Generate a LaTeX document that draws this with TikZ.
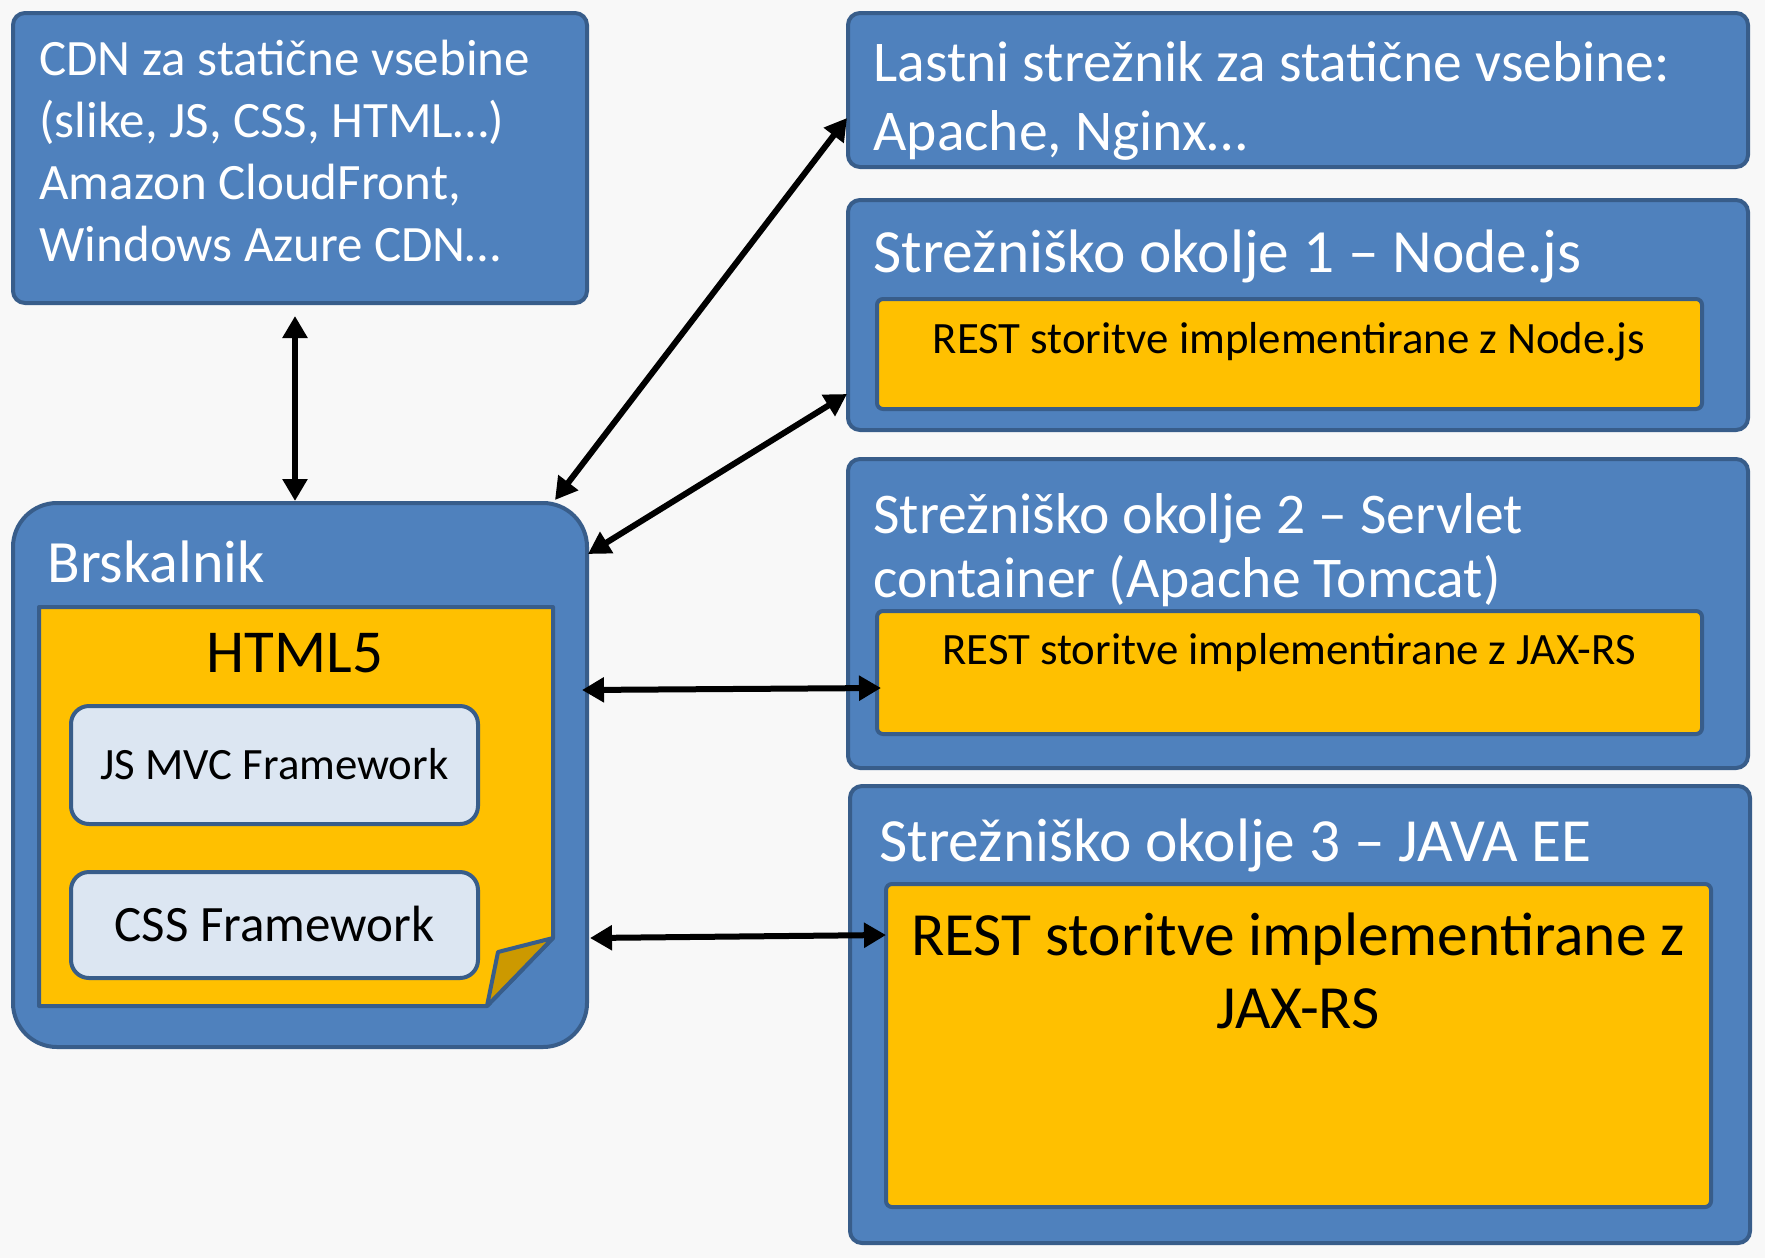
\documentclass[tikz,border=0pt]{standalone}
\usepackage{fontspec}
\setmainfont{Carlito}
\usetikzlibrary{arrows.meta}
\usepackage{xcolor}
\definecolor{boxblue}{HTML}{4F81BD}
\definecolor{edgeblue}{HTML}{385D8A}
\definecolor{gold}{HTML}{FFC000}
\definecolor{darkgold}{HTML}{CC9900}
\definecolor{paleblue}{HTML}{DCE6F2}
\definecolor{bggray}{HTML}{F8F8F8}
\newcommand\cdnsize{\fontsize{25.5}{30}\selectfont}
\newcommand\headsize{\fontsize{30.7}{37}\selectfont}
\newcommand\smallheadsize{\fontsize{28.8}{35}\selectfont}
\newcommand\restsize{\fontsize{22.4}{27}\selectfont}
\newcommand\bigrestsize{\fontsize{30.7}{37}\selectfont}

\begin{document}
\begin{tikzpicture}[x=0.5pt,y=-0.5pt,
  bluebox/.style={draw=edgeblue,fill=boxblue,line width=2pt,rounded corners=6pt,inner sep=0pt,outer sep=0pt},
  goldbox/.style={draw=edgeblue,fill=gold,line width=2pt,rounded corners=3pt,inner sep=0pt,outer sep=0pt},
  palebox/.style={draw=edgeblue,fill=paleblue,line width=2pt,rounded corners=9pt,inner sep=0pt,outer sep=0pt},
  wtext/.style={text=white,anchor=base west,inner sep=0pt},
  btext/.style={text=black,anchor=base,inner sep=0pt},
  link/.style={{Triangle[length=11pt,width=12pt]}-{Triangle[length=11pt,width=12pt]},line width=3pt}]
\fill[bggray] (0,0) rectangle (1765,1258);
\useasboundingbox (0,0) rectangle (1765,1258);

% boxes
\node[bluebox,minimum width=287pt,minimum height=145pt] (cdn) at (300,158) {};
\node[bluebox,minimum width=450pt,minimum height=77pt] (static) at (1298,90) {};
\node[bluebox,minimum width=450pt,minimum height=115pt] (env1) at (1298,315) {};
\node[goldbox,minimum width=412.5pt,minimum height=55pt] (rest1) at (1289.5,354) {};
\node[bluebox,minimum width=450pt,minimum height=154.5pt] (env2) at (1298,613.5) {};
\node[goldbox,minimum width=412.5pt,minimum height=61.5pt] (rest2) at (1289.5,672.5) {};
\node[bluebox,minimum width=450pt,minimum height=228.5pt] (env3) at (1300,1014.5) {};
\node[goldbox,minimum width=412.5pt,minimum height=161.5pt] (rest3) at (1298.5,1045.5) {};
\node[bluebox,rounded corners=22pt,minimum width=287pt,minimum height=272pt] (brs) at (300,775) {};

% HTML5 page with folded corner
\draw[draw=edgeblue,fill=gold,line width=2pt,line join=round] (39,607) -- (553,607) -- (553,938) -- (487,1006) -- (39,1006) -- cycle;
\draw[draw=edgeblue,fill=darkgold,line width=2pt,line join=round] (553,938) -- (498,952) -- (487,1006) -- cycle;
\node[palebox,minimum width=203.5pt,minimum height=59pt,font=\fontsize{22.4}{27}\selectfont,text height=14.4pt,text depth=0pt] (jsmvc) at (274.5,765) {JS MVC Framework};
\node[palebox,minimum width=203.5pt,minimum height=53pt,font=\fontsize{25.5}{30}\selectfont,text height=16.4pt,text depth=0pt] (css) at (274.5,925) {CSS Framework};

% texts
\node[wtext,font=\cdnsize] (cdn1) at (39,75) {CDN za statične vsebine};
\node[wtext,font=\cdnsize] (cdn2) at (39,137) {(slike, JS, CSS, HTML…)};
\node[wtext,font=\cdnsize] (cdn3) at (39,199) {Amazon CloudFront,};
\node[wtext,font=\cdnsize] (cdn4) at (39,261) {Windows Azure CDN…};
\node[wtext,font=\smallheadsize] (static1) at (873,81) {Lastni strežnik za statične vsebine:};
\node[wtext,font=\smallheadsize] (static2) at (873,150) {Apache, Nginx…};
\node[wtext,font=\headsize] (env1t) at (873,272) {Strežniško okolje 1 – Node.js};
\node[btext,font=\restsize] (rest1t) at (1289,353) {REST storitve implementirane z Node.js};
\node[wtext,font=\smallheadsize] (env2t1) at (873,533) {Strežniško okolje 2 – Servlet};
\node[wtext,font=\smallheadsize] (env2t2) at (873,597) {container (Apache Tomcat)};
\node[btext,font=\restsize] (rest2t) at (1289,664) {REST storitve implementirane z JAX-RS};
\node[wtext,font=\headsize] (env3t) at (879,861) {Strežniško okolje 3 – JAVA EE};
\node[btext,font=\bigrestsize] (rest3t1) at (1298,955) {REST storitve implementirane z};
\node[btext,font=\bigrestsize] (rest3t2) at (1298,1028) {JAX-RS};
\node[wtext,font=\fontsize{30}{36}\selectfont] (brst) at (47,582) {Brskalnik};
\node[btext,font=\fontsize{30.5}{36}\selectfont] (html5) at (295,672) {HTML5};

% connections
\draw[link] ([xshift=-2.5pt,yshift=-6.5pt]cdn.south) -- ([xshift=-2.5pt,yshift=1pt]brs.north);
\draw[link] ([xshift=-16pt,yshift=1.5pt]brs.north east) -- ([xshift=-0.5pt,yshift=-14pt]static.west);
\draw[link] ([xshift=0.5pt,yshift=-25.5pt]brs.north east) -- ([xshift=-0.5pt,yshift=18pt]env1.south west);
\draw[link] ([xshift=-2.5pt,yshift=42.5pt]brs.east) -- ([xshift=2pt,yshift=-7.75pt]rest2.west);
\draw[link] ([xshift=1.5pt,yshift=-81.5pt]brs.east) -- ([yshift=-25.5pt]rest3.north west);
\end{tikzpicture}
\end{document}
